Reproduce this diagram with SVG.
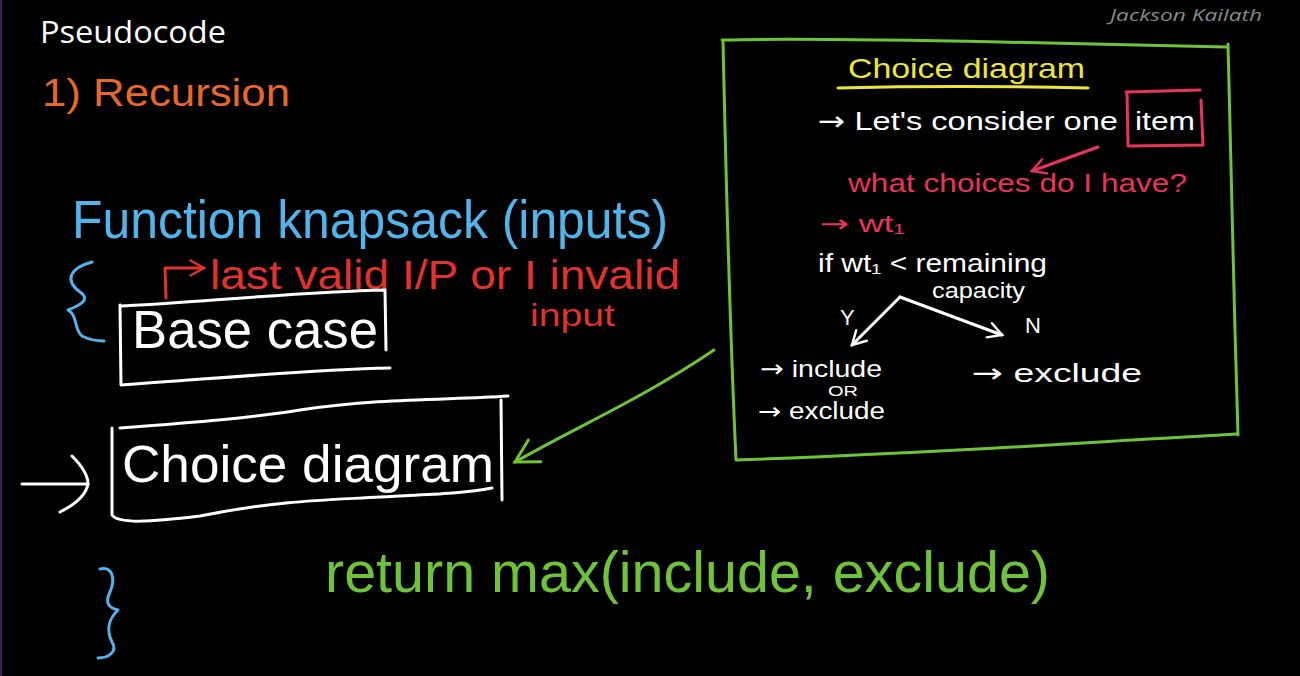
<svg xmlns="http://www.w3.org/2000/svg" width="1300" height="676" viewBox="0 0 1300 676">
<defs>
<style>
.hand{font-family:"Liberation Sans","DejaVu Sans",sans-serif;}
.arr{font-family:"DejaVu Sans",sans-serif;}
.w{fill:#ffffff}
.blue{fill:#52b4ea}
.red{fill:#e2322c}
.pink{fill:#e8345a}
.green{fill:#6fc33a}
.yellow{fill:#ece63c}
.orange{fill:#e8682c}
.sw{fill:none;stroke:#ffffff;stroke-width:3;stroke-linecap:round;stroke-linejoin:round}
.sg{fill:none;stroke:#6fc33a;stroke-width:3;stroke-linecap:round;stroke-linejoin:round}
.sb{fill:none;stroke:#52b4ea;stroke-width:3;stroke-linecap:round;stroke-linejoin:round}
.sr{fill:none;stroke:#e2322c;stroke-width:3;stroke-linecap:round;stroke-linejoin:round}
.sp{fill:none;stroke:#e8345a;stroke-width:3;stroke-linecap:round;stroke-linejoin:round}
</style>
<marker id="chevW" viewBox="0 0 12 12" refX="10" refY="6" markerWidth="6" markerHeight="6" orient="auto" markerUnits="strokeWidth">
<path d="M1,1 L10,6 L1,11" fill="none" stroke="#ffffff" stroke-width="1.6" stroke-linecap="round"/>
</marker>
<marker id="chevG" viewBox="0 0 12 12" refX="10" refY="6" markerWidth="10" markerHeight="10" orient="auto" markerUnits="strokeWidth">
<path d="M1,1 L10,6 L1,11" fill="none" stroke="#6fc33a" stroke-width="1.2" stroke-linecap="round"/>
</marker>
<marker id="chevR" viewBox="0 0 12 12" refX="10" refY="6" markerWidth="6" markerHeight="6" orient="auto" markerUnits="strokeWidth">
<path d="M1,1 L10,6 L1,11" fill="none" stroke="#e2322c" stroke-width="1.6" stroke-linecap="round"/>
</marker>
<marker id="chevP" viewBox="0 0 12 12" refX="10" refY="6" markerWidth="6" markerHeight="6" orient="auto" markerUnits="strokeWidth">
<path d="M1,1 L10,6 L1,11" fill="none" stroke="#e8345a" stroke-width="1.6" stroke-linecap="round"/>
</marker>
</defs>
<rect x="0" y="0" width="1300" height="676" fill="#000000"/>
<rect x="0" y="0" width="2" height="676" fill="#3a1e5a"/>

<g id="title">
<text x="40" y="43" font-family="'Open Sans','Noto Sans',sans-serif" font-size="31" textLength="186" lengthAdjust="spacingAndGlyphs" fill="#ffffff">Pseudocode</text>
</g>
<g id="watermark">
<text x="1110" y="21" font-family="'Open Sans','Noto Sans',sans-serif" font-style="italic" font-size="17" textLength="152" lengthAdjust="spacingAndGlyphs" fill="#8a8a8a">Jackson Kailath</text>
</g>
<g id="recursion">
<text class="hand orange" x="42" y="106" font-size="38" textLength="248" lengthAdjust="spacingAndGlyphs">1) Recursion</text>
</g>
<g id="function-header">
<text class="hand blue" x="72" y="238" font-size="54" textLength="596" lengthAdjust="spacingAndGlyphs">Function knapsack (inputs)</text>
</g>
<g id="brace-open">
<path class="sb" d="M92,262 C70,268 64,280 80,292 C92,300 78,306 68,310 C78,316 74,330 82,336 C90,340 98,341 104,341"/>
</g>
<g id="base-case-note">
<text class="hand red" x="210" y="289" font-size="40" textLength="470" lengthAdjust="spacingAndGlyphs">last valid I/P or I invalid</text>
<text class="hand red" x="530" y="326" font-size="32" textLength="85" lengthAdjust="spacingAndGlyphs">input</text>
</g>
<g id="base-case">
<path class="sw" d="M122,306 C200,302 300,292 385,290 L386,350 M120,305 L121,385 C200,380 300,370 390,368"/>
<text class="hand w" x="132" y="348" font-size="54" textLength="246" lengthAdjust="spacingAndGlyphs">Base case</text>
</g>
<g id="choice-diagram">
<path class="sw" d="M120,428 C200,422 250,418 300,410 C380,398 450,400 508,396 M501,400 L502,500 M112,428 L112,515 C118,524 150,522 200,516 C280,500 330,500 380,497 C430,494 460,494 492,488"/>
<text class="hand w" x="122" y="482" font-size="52" textLength="372" lengthAdjust="spacingAndGlyphs">Choice diagram</text>
</g>
<g id="return">
<text class="hand green" x="325" y="592" font-size="58" textLength="725" lengthAdjust="spacingAndGlyphs">return max(include, exclude)</text>
</g>
<g id="brace-close">
<path class="sb" d="M100,569 C112,566 116,578 110,592 C104,604 110,608 118,610 C112,616 104,626 112,642 C118,652 108,658 98,658"/>
</g>
<g id="choice-panel">
<path class="sg" d="M722,40 C800,38 900,40 1000,42 C1100,44 1180,46 1226,47 M1228,44 C1230,150 1234,300 1238,435 M723,40 C726,180 730,330 736,460 C850,456 1000,448 1100,442 C1160,438 1210,436 1236,434"/>
<text class="hand yellow" x="848" y="78" font-size="28" textLength="237" lengthAdjust="spacingAndGlyphs">Choice diagram</text>
<path d="M838,88 C920,86 1000,86 1088,88" fill="none" stroke="#ece63c" stroke-width="3" stroke-linecap="round"/>
<text class="hand w" x="818" y="130" font-size="26" textLength="300" lengthAdjust="spacingAndGlyphs"><tspan class="arr">→</tspan> Let's consider one</text>
<path class="sp" d="M1126,92 L1200,90 M1127,92 L1128,146 L1203,145 L1201,100"/>
<text class="hand w" x="1135" y="130" font-size="26" textLength="60" lengthAdjust="spacingAndGlyphs">item</text>
<text class="hand pink" x="848" y="192" font-size="26" textLength="339" lengthAdjust="spacingAndGlyphs">what choices do I have?</text>
<text class="hand pink" x="820" y="232" font-size="24" textLength="85" lengthAdjust="spacingAndGlyphs"><tspan class="arr">→</tspan> wt₁</text>
<text class="hand w" x="818" y="272" font-size="26" textLength="229" lengthAdjust="spacingAndGlyphs">if wt₁ &lt; remaining</text>
<text class="hand w" x="932" y="298" font-size="22" textLength="93" lengthAdjust="spacingAndGlyphs">capacity</text>
<text class="hand w" x="840" y="325" font-size="22">Y</text>
<text class="hand w" x="1025" y="333" font-size="22">N</text>
<text class="hand w" x="760" y="377" font-size="24" textLength="122" lengthAdjust="spacingAndGlyphs"><tspan class="arr">→</tspan> include</text>
<text class="hand w" x="828" y="396" font-size="15" textLength="30" lengthAdjust="spacingAndGlyphs">OR</text>
<text class="hand w" x="758" y="419" font-size="23" textLength="127" lengthAdjust="spacingAndGlyphs"><tspan class="arr">→</tspan> exclude</text>
<text class="hand w" x="972" y="382" font-size="26" textLength="170" lengthAdjust="spacingAndGlyphs"><tspan class="arr">→</tspan> exclude</text>
</g>
<g id="connectors">
<path class="sg" d="M714,350 C640,400 580,425 515,462" marker-end="url(#chevG)"/>
<path class="sw" d="M22,484 L88,484"/>
<path class="sw" d="M72,456 C82,466 88,476 88,484 C86,495 74,505 60,512"/>
<path class="sr" d="M166,298 L165,268 L204,268" marker-end="url(#chevR)"/>
<path class="sp" d="M1098,147 L1032,171" marker-end="url(#chevP)"/>
<path class="sw" d="M900,297 L852,345" marker-end="url(#chevW)"/>
<path class="sw" d="M900,297 L1002,335" marker-end="url(#chevW)"/>
</g>
</svg>
